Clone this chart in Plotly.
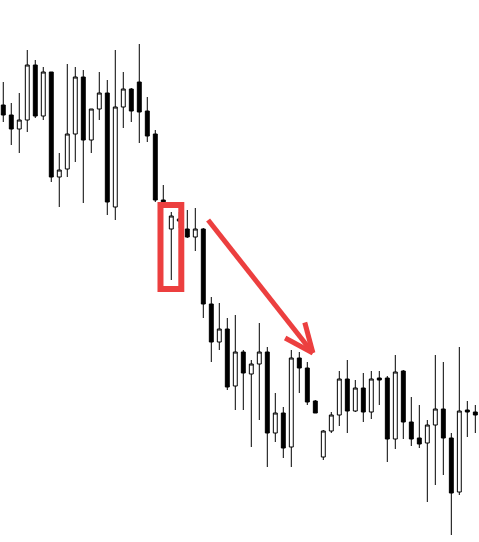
import numpy as np
import plotly.graph_objects as go

# candle data (arbitrary price units)
bar = list(range(60))
high = [460, 439, 449, 492, 482, 475, 470, 389, 478, 475,
        472, 433, 470, 462, 492, 470, 454, 498, 445, 412,
        357, 330, 330, 332, 334, 314, 245, 239, 224, 227,
        192, 182, 219, 195, 149, 135, 192, 190, 180, 142,
        112, 130, 171, 182, 162, 169, 171, 171, 166, 187,
        172, 145, 137, 122, 187, 180, 109, 195, 141, 137]
low = [420, 397, 389, 410, 424, 422, 360, 335, 365, 380,
       339, 389, 422, 327, 322, 414, 420, 399, 400, 340,
       337, 262, 314, 304, 291, 224, 180, 192, 152, 132,
       132, 95, 122, 75, 100, 84, 75, 149, 137, 129,
       82, 109, 116, 109, 130, 120, 123, 137, 80, 93,
       103, 96, 94, 40, 57, 67, 7, 47, 105, 109]
open_ = [437, 427, 413, 422, 477, 426, 470, 365, 373, 408,
         465, 402, 433, 449, 335, 435, 453, 460, 431, 408,
         342, 313, 321, 313, 305, 313, 238, 200, 213, 156,
         190, 168, 178, 190, 109, 129, 95, 184, 174, 141,
         85, 111, 127, 163, 131, 154, 130, 164, 164, 103,
         171, 120, 104, 99, 117, 133, 104, 50, 132, 130]
close = [427, 413, 422, 477, 426, 470, 365, 372, 408, 465,
         402, 433, 449, 340, 435, 453, 431, 430, 406, 342,
         337, 326, 323, 305, 313, 238, 200, 213, 155, 190,
         169, 178, 190, 109, 129, 94, 184, 174, 140, 129,
         111, 127, 163, 131, 154, 130, 163, 162, 103, 170,
         120, 103, 98, 117, 133, 104, 49, 131, 130, 127]

RED = "#ec3f3f"
PX_X = 8.0  # pixels per bar
PX_Y = 1.0  # pixels per price unit

fig = go.Figure()
fig.add_trace(
    go.Candlestick(
        x=bar,
        open=open_,
        high=high,
        low=low,
        close=close,
        increasing={"fillcolor": "white", "line": {"color": "black", "width": 1}},
        decreasing={"fillcolor": "black", "line": {"color": "black", "width": 1}},
        whiskerwidth=0,
        showlegend=False,
    ),
)

# red box around the hammer candle
k = 21
fig.add_shape(
    type="rect",
    x0=bar[k] - 1.35,
    x1=bar[k] + 1.25,
    y0=low[k] - 9.0,
    y1=high[k] + 7.0,
    line={"color": RED, "width": 6},
)

# red arrow pointing down
start = np.array([25.6, 322.0])
tip = np.array([38.7, 189.0])


def to_px(p):
    return np.array([p[0] * PX_X, -p[1] * PX_Y])


def to_data(q):
    return np.array([q[0] / PX_X, -q[1] / PX_Y])


d = to_px(tip) - to_px(start)
d /= np.linalg.norm(d)
perp = np.array([-d[1], d[0]])
fig.add_shape(type="line", x0=start[0], y0=start[1], x1=tip[0], y1=tip[1],
              line={"color": RED, "width": 5})
for s in (1, -1):
    end = to_data(to_px(tip) - d * 29 + perp * 12.5 * s)
    fig.add_shape(type="line", x0=tip[0], y0=tip[1], x1=end[0], y1=end[1],
                  line={"color": RED, "width": 5})

fig.update_layout(
    width=479,
    height=542,
    margin={"l": 0, "r": 0, "t": 0, "b": 0},
    paper_bgcolor="white",
    plot_bgcolor="white",
    xaxis={"range": [-0.41, 59.46], "visible": False, "rangeslider": {"visible": False}},
    yaxis={"range": [0, 542], "visible": False},
)

# drop the default body margin so the figure sits at the page corner
fig.write_html(
    "out.html",
    config={"displayModeBar": False},
    post_script="document.body.style.margin='0';",
)
